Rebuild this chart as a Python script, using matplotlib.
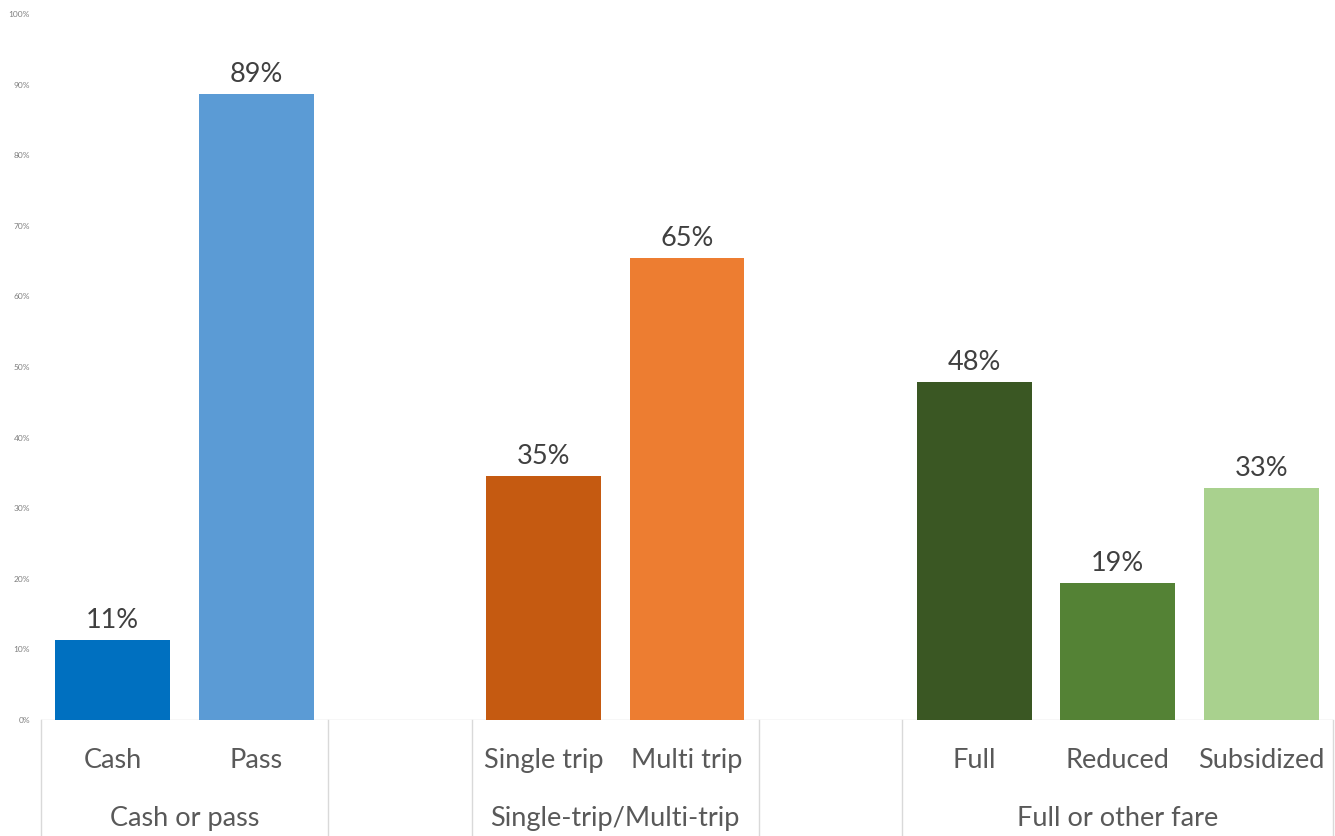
import numpy as np
import matplotlib.pyplot as plt
import matplotlib.transforms as mtransforms

plt.rcParams['font.family'] = ['Lato', 'DejaVu Sans']

# group labels, sub labels and shares (empty groups are spacer slots)
groups = ['Cash or pass', '', 'Single-trip/Multi-trip', '', 'Full or other fare']
sub_labels = [['Cash', 'Pass'], [''], ['Single trip', 'Multi trip'], [''],
              ['Full', 'Reduced', 'Subsidized']]
values = [[0.113, 0.887], [None], [0.346, 0.654], [None], [0.479, 0.194, 0.329]]
colors = [['#0070C0', '#5B9BD5'], [None], ['#C55A11', '#ED7D31'], [None],
          ['#3A5723', '#548235', '#A9D18E']]
yticks = np.arange(0, 1.01, 0.1)

fig = plt.figure(figsize=(13.35, 8.36), dpi=100)
ax = fig.add_axes([41 / 1335, 116 / 836, 1292 / 1335, 706 / 836])

trans = mtransforms.blended_transform_factory(ax.transData, ax.transAxes)
pos = 0
bounds = [-0.5]
for g, subs, vals, cols in zip(groups, sub_labels, values, colors):
    start = pos
    for s, v, c in zip(subs, vals, cols):
        if v is not None:
            ax.bar(pos, v, width=0.8, color=c, zorder=2)
            ax.annotate(f'{v:.0%}', (pos, v), xytext=(0, 5), textcoords='offset points',
                        ha='center', va='bottom', fontsize=19.5, color='#404040')
        ax.text(pos, -0.057, s, transform=trans, ha='center', va='center',
                fontsize=19.5, color='#595959')
        pos += 1
    ax.text((start + pos - 1) / 2, -0.139, g, transform=trans, ha='center', va='center',
            fontsize=19.5, color='#595959')
    bounds.append(pos - 0.5)

for b in bounds:
    ax.plot([b, b], [0, -0.2], transform=trans, color='#d9d9d9', lw=1, clip_on=False)

ax.set_xlim(-0.5, pos - 0.5)
ax.set_ylim(0, 1)
ax.axhline(0, color='#d9d9d9', lw=1, zorder=1)
ax.set_xticks([])
ax.set_yticks(yticks)
ax.set_yticklabels([f'{t:.0%}' for t in yticks], fontsize=6, color='#7f7f7f')
ax.tick_params(axis='y', length=0, pad=8)
for sp in ax.spines.values():
    sp.set_visible(False)

fig.savefig('out.png', dpi=100)
